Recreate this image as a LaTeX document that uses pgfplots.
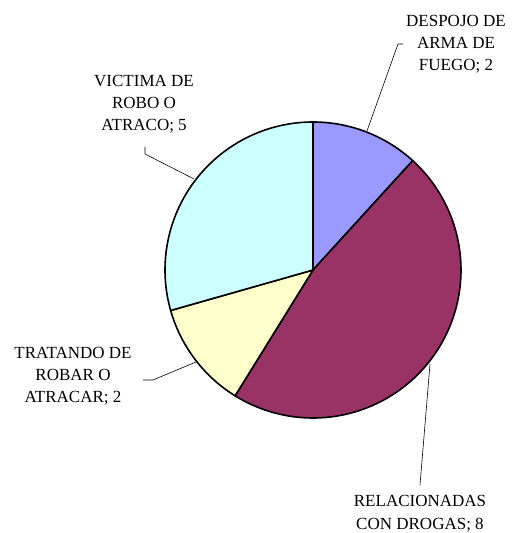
\documentclass[border=0pt]{standalone}
\usepackage{fontspec}
\setmainfont{Liberation Serif}
\usepackage{pgfplots}
\pgfplotsset{compat=1.18}
\definecolor{cA}{HTML}{9999FF}
\definecolor{cB}{HTML}{993366}
\definecolor{cC}{HTML}{FFFFCC}
\definecolor{cD}{HTML}{CCFFFF}
% values: DESPOJO 2, RELACIONADAS 8, TRATANDO 2, VICTIMA 5
\pgfmathsetmacro\tot{2+8+2+5}
\pgfmathsetmacro\aA{90}
\pgfmathsetmacro\aB{\aA-360*2/\tot}
\pgfmathsetmacro\aC{\aB-360*8/\tot}
\pgfmathsetmacro\aD{\aC-360*2/\tot}
\pgfmathsetmacro\aE{\aD-360*5/\tot}
\begin{document}
\begin{tikzpicture}
\begin{axis}[scale only axis, width=517pt, height=533pt, at={(0,0)}, anchor=south west,
  xmin=0, xmax=517, ymin=0, ymax=533, hide axis, clip=false]
\addplot[fill=cA, draw=black, line width=1.6pt, line join=round, domain=\aB:\aA, samples=60, variable=\t]
  ({313+148*cos(\t)},{263+148*sin(\t)}) -- (axis cs:313,263) -- cycle;
\addplot[fill=cB, draw=black, line width=1.6pt, line join=round, domain=\aC:\aB, samples=120, variable=\t]
  ({313+148*cos(\t)},{263+148*sin(\t)}) -- (axis cs:313,263) -- cycle;
\addplot[fill=cC, draw=black, line width=1.6pt, line join=round, domain=\aD:\aC, samples=60, variable=\t]
  ({313+148*cos(\t)},{263+148*sin(\t)}) -- (axis cs:313,263) -- cycle;
\addplot[fill=cD, draw=black, line width=1.6pt, line join=round, domain=\aE:\aD, samples=90, variable=\t]
  ({313+148*cos(\t)},{263+148*sin(\t)}) -- (axis cs:313,263) -- cycle;
% leader lines
\addplot[black, line width=0.6pt] coordinates {(403,489) (398,489) (367,402)};
\addplot[black, line width=0.6pt] coordinates {(145,386) (145,379) (194,354)};
\addplot[black, line width=0.6pt] coordinates {(143,153) (153,153) (196,171)};
\addplot[black, line width=0.6pt] coordinates {(430,169) (420,48)};
% labels
\node[align=center, font=\fontsize{17}{22}\selectfont] at (axis cs:456,489) {DESPOJO DE\\ARMA DE\\FUEGO; 2};
\node[align=center, font=\fontsize{17}{22}\selectfont] at (axis cs:144,429) {VICTIMA DE\\ROBO O\\ATRACO; 5};
\node[align=center, font=\fontsize{17}{22}\selectfont] at (axis cs:73,157) {TRATANDO DE\\ROBAR O\\ATRACAR; 2};
\node[align=center, font=\fontsize{17}{23}\selectfont] at (axis cs:420,19) {RELACIONADAS\\CON DROGAS; 8};
\end{axis}
\pgfresetboundingbox
\path (0,0) rectangle (517pt,533pt);
\end{tikzpicture}
\end{document}
